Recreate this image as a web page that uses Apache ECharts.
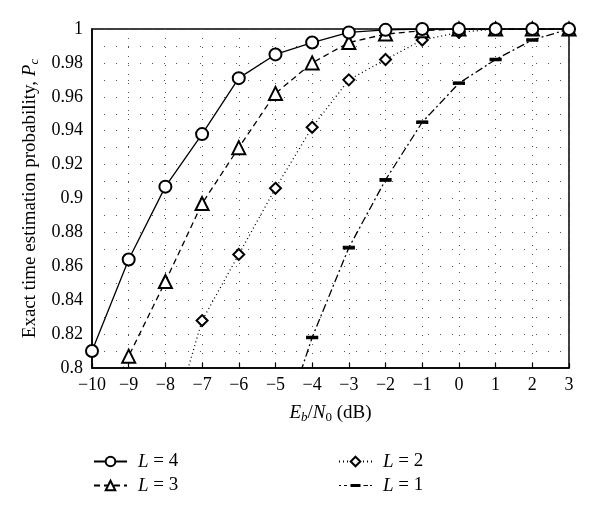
<!DOCTYPE html>
<html>
<head>
<meta charset="utf-8">
<script src="https://cdn.jsdelivr.net/npm/echarts@6/dist/echarts.min.js"></script>
<style>
  html, body { margin: 0; padding: 0; background: #fff; }
  #chart { width: 600px; height: 514px; }
</style>
</head>
<body>
<div id="chart"></div>
<script>
// Eb/N0 in dB
const ebn0 = [-10, -9, -8, -7, -6, -5, -4, -3, -2, -1, 0, 1, 2, 3]

// exact time estimation probability
const pcL4 = [0.810, 0.864, 0.907, 0.938, 0.971, 0.985, 0.992, 0.998, 0.9995, 1, 1, 1, 1, 1]
const pcL3 = [0.760, 0.807, 0.851, 0.897, 0.930, 0.962, 0.980, 0.992, 0.997, 0.999, 1, 1, 1, 1]
const pcL2 = [null, null, 0.754, 0.828, 0.867, 0.906, 0.942, 0.970, 0.982, 0.9935, 0.998, 1, 1, 1]
const pcL1 = [null, null, null, null, null, 0.753, 0.818, 0.871, 0.911, 0.945, 0.968, 0.982, 0.9935, 1]

const seriesNames = ['L = 4', 'L = 3', 'L = 2', 'L = 1']

const font = '"Liberation Serif", "Times New Roman", serif'

// legend sample for L = 1: dash-dot line with a short bar in the middle
// (corner moves keep the icon box at 33x12 so it is not stretched)
const dashIcon = 'path://M0,0M33,12M0,5.4H2V6.6H0ZM5,5.4H8V6.6H5ZM11.5,4.5H21.5V7.5H11.5ZM24.5,5.4H29V6.6H24.5ZM31,5.4H33V6.6H31Z'

function pairs(ys) {
  return ebn0.map((x, i) => [x, ys[i]]).filter(p => p[1] !== null)
}

function minus(v) {
  return v < 0 ? '\u2212' + (-v) : String(v)
}

const chart = echarts.init(document.getElementById('chart'))

const lineSeries = (name, ys, symbol, size, dash) => ({
  name: name,
  type: 'line',
  data: pairs(ys),
  symbol: symbol,
  symbolSize: size,
  showSymbol: true,
  clip: true,
  lineStyle: { color: '#000', width: 1.3, type: dash },
  itemStyle: { color: '#000', borderColor: '#000', borderWidth: 1.2 },
  emphasis: { disabled: true },
  animation: false
})

const nameRich = {
  i: { fontFamily: font, fontSize: 19, fontStyle: 'italic', lineHeight: 22, color: '#000' },
  n: { fontFamily: font, fontSize: 19, lineHeight: 22, color: '#000' },
  si: { fontFamily: font, fontSize: 13, lineHeight: 13, verticalAlign: 'bottom', fontStyle: 'italic', color: '#000' },
  s: { fontFamily: font, fontSize: 13, lineHeight: 13, verticalAlign: 'bottom', color: '#000' }
}

const legendBase = {
  orient: 'vertical',
  top: 447,
  itemWidth: 33,
  itemHeight: 12,
  itemGap: 5,
  selectedMode: false,
  textStyle: {
    fontFamily: font, fontSize: 19, color: '#000', padding: [0, 0, 0, 6],
    rich: {
      i: { fontFamily: font, fontSize: 19, fontStyle: 'italic', color: '#000' },
      n: { fontFamily: font, fontSize: 19, color: '#000' }
    }
  },
  formatter: name => '{i|L}{n|' + name.slice(1) + '}'
}

const dotted = { color: '#555', width: 1, type: [1, 8] }

chart.setOption({
  backgroundColor: '#fff',
  animation: false,
  grid: {
    left: 92, right: 31, top: 29, bottom: 146,
    show: true, borderColor: '#000', borderWidth: 1.5, backgroundColor: 'transparent'
  },
  legend: [
    Object.assign({}, legendBase, { left: 88, data: seriesNames.slice(0, 2) }),
    Object.assign({}, legendBase, {
      left: 333,
      data: [seriesNames[2], { name: seriesNames[3], icon: dashIcon, itemStyle: { color: '#000', borderWidth: 0 } }]
    })
  ],
  xAxis: {
    type: 'value',
    min: -10, max: 3, interval: 1,
    name: '{i|E}{si|b}{n|/}{i|N}{s|0}{n| (dB)}',
    nameLocation: 'middle',
    nameGap: 34,
    nameTextStyle: { fontFamily: font, fontSize: 19, color: '#000', rich: nameRich },
    axisLine: { show: true, onZero: false, lineStyle: { color: '#000', width: 1.5 } },
    axisTick: { show: true, inside: true, length: 5, lineStyle: { color: '#000', width: 1.2 } },
    axisLabel: { fontFamily: font, fontSize: 18, color: '#000', margin: 8, formatter: minus },
    splitLine: { show: true, lineStyle: dotted }
  },
  yAxis: {
    type: 'value',
    min: 0.8, max: 1, interval: 0.02,
    name: '{n|Exact time estimation probability, }{i|P}{si|c}',
    nameLocation: 'middle',
    nameRotate: 90,
    nameGap: 49,
    nameTextStyle: { fontFamily: font, fontSize: 19, color: '#000', rich: nameRich },
    axisLine: { show: true, onZero: false, lineStyle: { color: '#000', width: 1.5 } },
    axisTick: { show: false },
    axisLabel: {
      fontFamily: font, fontSize: 18, color: '#000', margin: 9,
      formatter: v => String(+v.toFixed(2))
    },
    splitLine: { show: true, lineStyle: { color: '#555', width: 1, type: [1, 11] } },
    minorTick: { show: false, splitNumber: 2 },
    minorSplitLine: { show: true, lineStyle: { color: '#555', width: 1, type: [1, 11] } }
  },
  series: [
    lineSeries(seriesNames[3], pcL1, 'rect', [10, 3], [8, 3, 2, 3]),
    lineSeries(seriesNames[2], pcL2, 'emptyDiamond', 11, [1, 3]),
    lineSeries(seriesNames[1], pcL3, 'emptyTriangle', 13, [6, 4]),
    lineSeries(seriesNames[0], pcL4, 'emptyCircle', 12, 'solid')
  ]
})
</script>
</body>
</html>
